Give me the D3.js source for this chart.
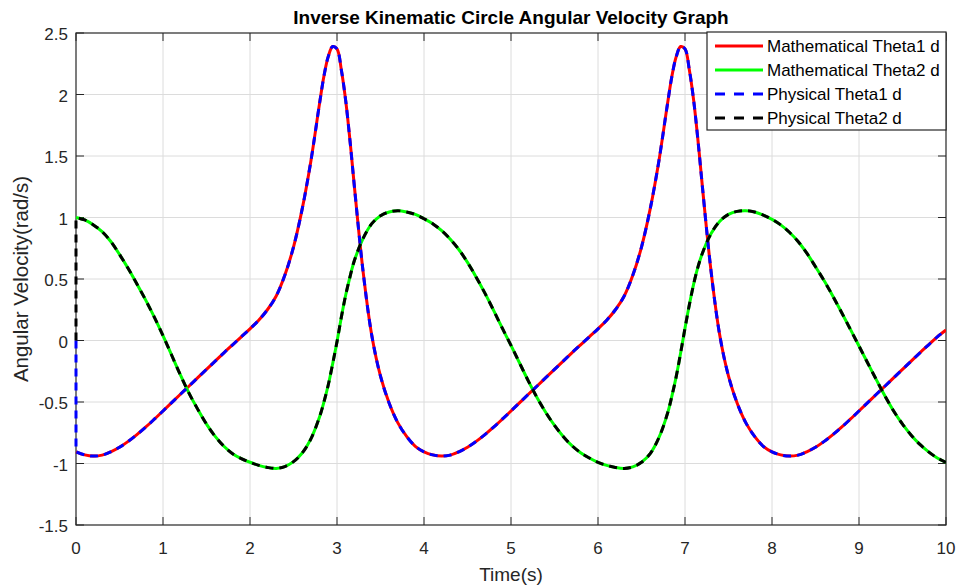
<!DOCTYPE html>
<html>
<head>
  <meta charset="utf-8">
  <script src="https://d3js.org/d3.v7.min.js"></script>
  <style>
    body {
      margin: 0;
      background: #fff;
      font-family: 'Liberation Sans', Arial, sans-serif;
    }
    .grid line {
      stroke: #dcdcdc;
      stroke-width: 1;
    }
    .tick-label {
      fill: #262626;
      font-size: 17px;
    }
  </style>
</head>
<body>
<script>
  // sample times (s); extra samples around the two sharp peaks
  var time = [
    0, 0.1, 0.2, 0.3, 0.4, 0.5, 0.6, 0.7, 0.8, 0.9,
    1, 1.1, 1.2, 1.3, 1.4, 1.5, 1.6, 1.7, 1.8, 1.9,
    2, 2.1, 2.2, 2.3, 2.4, 2.5, 2.6, 2.7, 2.8, 2.85, 2.9, 2.95,
    3, 3.05, 3.1, 3.15, 3.2, 3.3, 3.4, 3.5, 3.6, 3.7, 3.8, 3.9,
    4, 4.1, 4.2, 4.3, 4.4, 4.5, 4.6, 4.7, 4.8, 4.9,
    5, 5.1, 5.2, 5.3, 5.4, 5.5, 5.6, 5.7, 5.8, 5.9,
    6, 6.1, 6.2, 6.3, 6.4, 6.5, 6.6, 6.7, 6.8, 6.85, 6.9, 6.95,
    7, 7.05, 7.1, 7.15, 7.2, 7.3, 7.4, 7.5, 7.6, 7.7, 7.8, 7.9,
    8, 8.1, 8.2, 8.3, 8.4, 8.5, 8.6, 8.7, 8.8, 8.9,
    9, 9.1, 9.2, 9.3, 9.4, 9.5, 9.6, 9.7, 9.8, 9.9,
    10
  ];

  // Mathematical Theta1 d (rad/s)
  var mathTheta1 = [
    -0.905, -0.93, -0.94, -0.932, -0.905, -0.868, -0.82, -0.765, -0.705, -0.64,
    -0.573, -0.505, -0.437, -0.37, -0.302, -0.235, -0.168, -0.10, -0.035, 0.03,
    0.095, 0.165, 0.25, 0.36, 0.53, 0.76, 1.07, 1.46, 1.93, 2.15, 2.31, 2.39,
    2.37, 2.20, 1.95, 1.62, 1.25, 0.56, 0.04, -0.29, -0.51, -0.67, -0.78, -0.86,
    -0.905, -0.93, -0.94, -0.932, -0.905, -0.868, -0.82, -0.765, -0.705, -0.64,
    -0.573, -0.505, -0.437, -0.37, -0.302, -0.235, -0.168, -0.10, -0.035, 0.03,
    0.095, 0.165, 0.25, 0.36, 0.53, 0.76, 1.07, 1.46, 1.93, 2.15, 2.31, 2.39,
    2.37, 2.20, 1.95, 1.62, 1.25, 0.56, 0.04, -0.29, -0.51, -0.67, -0.78, -0.86,
    -0.905, -0.93, -0.94, -0.932, -0.905, -0.868, -0.82, -0.765, -0.705, -0.64,
    -0.573, -0.505, -0.437, -0.37, -0.302, -0.235, -0.168, -0.10, -0.035, 0.03,
    0.085
  ];

  // Mathematical Theta2 d (rad/s)
  var mathTheta2 = [
    1.00, 0.98, 0.94, 0.885, 0.805, 0.70, 0.585, 0.46, 0.33, 0.19,
    0.04, -0.12, -0.28, -0.43, -0.56, -0.68, -0.78, -0.86, -0.92, -0.96,
    -0.99, -1.015, -1.032, -1.04, -1.025, -0.985, -0.915, -0.80, -0.62, -0.50, -0.36, -0.19,
    -0.01, 0.19, 0.37, 0.52, 0.65, 0.83, 0.95, 1.015, 1.045, 1.055, 1.045, 1.025,
    0.99, 0.95, 0.895, 0.825, 0.74, 0.635, 0.515, 0.385, 0.245, 0.10,
    -0.04, -0.185, -0.33, -0.465, -0.585, -0.69, -0.78, -0.855, -0.912, -0.955,
    -0.99, -1.015, -1.032, -1.04, -1.028, -0.99, -0.92, -0.79, -0.59, -0.45, -0.29, -0.10,
    0.10, 0.29, 0.46, 0.60, 0.71, 0.87, 0.97, 1.025, 1.05, 1.055, 1.045, 1.02,
    0.985, 0.94, 0.88, 0.805, 0.71, 0.60, 0.485, 0.36, 0.228, 0.092,
    -0.045, -0.183, -0.32, -0.453, -0.575, -0.68, -0.77, -0.845, -0.905, -0.955,
    -0.99
  ];

  // Physical signals follow the math ones but start from rest at t = 0
  var physStart = 0;
  var physTheta1 = mathTheta1;
  var physTheta2 = mathTheta2;

  var xTicks = [0, 1, 2, 3, 4, 5, 6, 7, 8, 9, 10];
  var yTicks = [-1.5, -1, -0.5, 0, 0.5, 1, 1.5, 2, 2.5];
  var legendLabels = ["Mathematical Theta1 d", "Mathematical Theta2 d",
                      "Physical Theta1 d", "Physical Theta2 d"];

  var width = 960, height = 587;
  var plot = { left: 76, right: 946, top: 33, bottom: 525 };

  var svg = d3.select("body").append("svg")
      .attr("width", width)
      .attr("height", height);

  svg.append("rect").attr("width", width).attr("height", height).attr("fill", "#fff");

  var x = d3.scaleLinear().domain([0, 10]).range([plot.left, plot.right]);
  var y = d3.scaleLinear().domain([-1.5, 2.5]).range([plot.bottom, plot.top]);

  /* grid */
  var grid = svg.append("g").attr("class", "grid");
  grid.selectAll(".gx").data(xTicks.slice(1, -1)).enter().append("line")
      .attr("x1", function (d) { return x(d); })
      .attr("x2", function (d) { return x(d); })
      .attr("y1", plot.top).attr("y2", plot.bottom);
  grid.selectAll(".gy").data(yTicks.slice(1, -1)).enter().append("line")
      .attr("y1", function (d) { return y(d); })
      .attr("y2", function (d) { return y(d); })
      .attr("x1", plot.left).attr("x2", plot.right);

  /* axes box with inward ticks on all sides */
  var axisColor = "#262626";
  svg.append("rect")
      .attr("x", plot.left).attr("y", plot.top)
      .attr("width", plot.right - plot.left)
      .attr("height", plot.bottom - plot.top)
      .attr("fill", "none").attr("stroke", axisColor).attr("stroke-width", 1.2);

  var tickLen = 8;
  var ticks = svg.append("g").attr("stroke", axisColor).attr("stroke-width", 1);
  xTicks.forEach(function (d) {
    ticks.append("line").attr("x1", x(d)).attr("x2", x(d))
        .attr("y1", plot.bottom).attr("y2", plot.bottom - tickLen);
    ticks.append("line").attr("x1", x(d)).attr("x2", x(d))
        .attr("y1", plot.top).attr("y2", plot.top + tickLen);
  });
  yTicks.forEach(function (d) {
    ticks.append("line").attr("y1", y(d)).attr("y2", y(d))
        .attr("x1", plot.left).attr("x2", plot.left + tickLen);
    ticks.append("line").attr("y1", y(d)).attr("y2", y(d))
        .attr("x1", plot.right).attr("x2", plot.right - tickLen);
  });

  /* series */
  svg.append("clipPath").attr("id", "clip").append("rect")
      .attr("x", plot.left - 4).attr("y", plot.top)
      .attr("width", plot.right - plot.left + 4)
      .attr("height", plot.bottom - plot.top);

  var line = d3.line()
      .x(function (d) { return x(d[0]); })
      .y(function (d) { return y(d[1]); })
      .curve(d3.curveCatmullRom.alpha(0.5));

  var series = [
    { v: mathTheta1, color: "#ff0000", dash: null, start: null },
    { v: mathTheta2, color: "#00ff00", dash: null, start: null },
    { v: physTheta1, color: "#0000ff", dash: "8,6", start: physStart },
    { v: physTheta2, color: "#000000", dash: "8,6", start: physStart }
  ];

  var lines = svg.append("g").attr("clip-path", "url(#clip)");
  series.forEach(function (s) {
    var d = line(d3.zip(time, s.v));
    // physical signals jump straight from rest to the first sample
    if (s.start !== null) {
      d = "M" + x(time[0]) + "," + y(s.start) + "L" + d.slice(1);
    }
    lines.append("path")
        .attr("fill", "none")
        .attr("stroke", s.color)
        .attr("stroke-width", 3)
        .attr("stroke-dasharray", s.dash)
        .attr("d", d);
  });

  svg.selectAll(".xl").data(xTicks).enter().append("text")
      .attr("class", "tick-label")
      .attr("x", function (d) { return x(d); })
      .attr("y", plot.bottom + 29)
      .attr("text-anchor", "middle")
      .text(function (d) { return d; });

  svg.selectAll(".yl").data(yTicks).enter().append("text")
      .attr("class", "tick-label")
      .attr("x", plot.left - 8)
      .attr("y", function (d) { return y(d) + 7; })
      .attr("text-anchor", "end")
      .text(function (d) { return d; });

  // axis titles
  svg.append("text")
      .attr("x", (plot.left + plot.right) / 2)
      .attr("y", plot.bottom + 56)
      .attr("text-anchor", "middle")
      .attr("font-size", "19px")
      .attr("fill", axisColor)
      .text("Time(s)");

  svg.append("text")
      .attr("transform", "translate(28," + ((plot.top + plot.bottom) / 2) + ") rotate(-90)")
      .attr("text-anchor", "middle")
      .attr("font-size", "20.5px")
      .attr("fill", axisColor)
      .text("Angular Velocity(rad/s)");

  svg.append("text")
      .attr("x", (plot.left + plot.right) / 2)
      .attr("y", 24)
      .attr("text-anchor", "middle")
      .attr("font-size", "19px")
      .attr("font-weight", "bold")
      .attr("fill", "#000")
      .text("Inverse Kinematic Circle Angular Velocity Graph");

  /* legend */
  var leg = svg.append("g").attr("transform", "translate(707,32)");
  leg.append("rect")
      .attr("width", 239).attr("height", 98)
      .attr("fill", "#fff").attr("stroke", axisColor).attr("stroke-width", 1.2);

  var rows = leg.selectAll(".row").data(series).enter().append("g")
      .attr("transform", function (d, i) { return "translate(0," + (14 + i * 24) + ")"; });
  rows.append("line")
      .attr("x1", 8).attr("x2", 56)
      .attr("stroke", function (d) { return d.color; })
      .attr("stroke-width", 3)
      .attr("stroke-dasharray", function (d) { return d.dash ? "10,9" : null; });
  rows.append("text")
      .attr("x", 60).attr("y", 6)
      .attr("font-size", "17px")
      .attr("fill", "#000")
      .text(function (d, i) { return legendLabels[i]; });
</script>
</body>
</html>
